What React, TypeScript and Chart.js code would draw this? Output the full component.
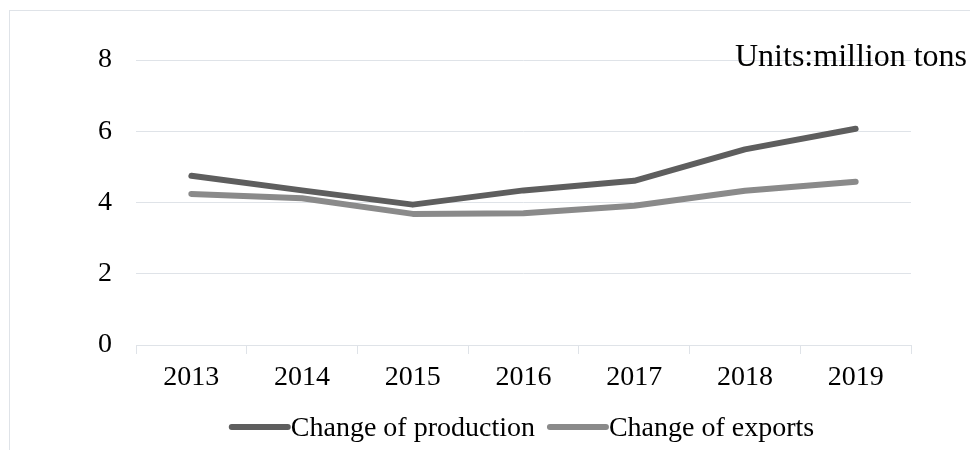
import React, { useEffect, useRef } from "react";
import { Chart, registerables } from "chart.js";

Chart.register(...registerables);

const categories = ["2013", "2014", "2015", "2016", "2017", "2018", "2019"];
const production = [4.75, 4.34, 3.94, 4.34, 4.61, 5.49, 6.07];
const exportsData = [4.24, 4.12, 3.68, 3.7, 3.91, 4.33, 4.58];
const seriesNames = ["Change of production", "Change of exports"];
const seriesColors = ["#5e5e5e", "#8a8a8a"];
const unitsText = "Units:million tons";

const FONT = "'Liberation Serif', 'Times New Roman', serif";
const GRID = "#dfe3e8";

const framePlugin = {
  id: "frame",
  beforeDraw(chart: any) {
    const ctx = chart.ctx;
    ctx.save();
    ctx.fillStyle = "#ffffff";
    ctx.fillRect(0, 0, chart.width, chart.height);
    ctx.strokeStyle = GRID;
    ctx.lineWidth = 1;
    ctx.strokeRect(9.5, 10.5, 3000, 3000);
    ctx.restore();
  },
  afterDraw(chart: any) {
    const ctx = chart.ctx;
    ctx.save();
    // units text
    ctx.font = `32px ${FONT}`;
    ctx.fillStyle = "#000";
    ctx.textAlign = "left";
    ctx.textBaseline = "alphabetic";
    ctx.fillText(unitsText, 735, 66);

    // legend
    ctx.font = `28px ${FONT}`;
    const lineW = 62;
    const gap = 12;
    const ds = chart.data.datasets;
    let total = 0;
    const widths = ds.map((d: any) => ctx.measureText(d.label).width);
    widths.forEach((w: number, i: number) => {
      total += lineW + w + (i < ds.length - 1 ? gap : 0);
    });
    const center = (chart.chartArea.left + chart.chartArea.right) / 2 - 2;
    let x = center - total / 2;
    const baseY = 436;
    const lineY = 427;
    ds.forEach((d: any, i: number) => {
      ctx.strokeStyle = d.borderColor;
      ctx.lineWidth = 6;
      ctx.lineCap = "round";
      ctx.beginPath();
      ctx.moveTo(x + 3, lineY);
      ctx.lineTo(x + lineW - 3, lineY);
      ctx.stroke();
      ctx.fillStyle = "#000";
      ctx.fillText(d.label, x + lineW, baseY);
      x += lineW + widths[i] + gap;
    });
    ctx.restore();
  },
};

export default function App() {
  const ref = useRef<HTMLCanvasElement | null>(null);

  useEffect(() => {
    if (!ref.current) return;
    const chart = new Chart(ref.current, {
      type: "line",
      data: {
        labels: categories,
        datasets: [
          {
            label: seriesNames[0],
            data: production,
            borderColor: seriesColors[0],
            backgroundColor: seriesColors[0],
            borderWidth: 6,
            borderCapStyle: "round",
            borderJoinStyle: "round",
            pointRadius: 0,
            tension: 0,
          },
          {
            label: seriesNames[1],
            data: exportsData,
            borderColor: seriesColors[1],
            backgroundColor: seriesColors[1],
            borderWidth: 6,
            borderCapStyle: "round",
            borderJoinStyle: "round",
            pointRadius: 0,
            tension: 0,
          },
        ],
      },
      options: {
        responsive: false,
        animation: false,
        layout: { padding: { top: 60, right: 59, left: 0, bottom: 0 } },
        plugins: {
          legend: { display: false },
          tooltip: { enabled: false },
        },
        scales: {
          x: {
            offset: true,
            grid: {
              offset: true,
              drawOnChartArea: false,
              drawTicks: true,
              tickLength: 9,
              color: GRID,
            },
            border: { display: true, color: GRID },
            ticks: {
              font: { family: FONT, size: 28 },
              color: "#000",
              padding: 7,
              maxRotation: 0,
            },
            afterFit: (s: any) => {
              s.height = 105;
            },
          },
          y: {
            min: 0,
            max: 8,
            ticks: {
              stepSize: 2,
              font: { family: FONT, size: 28 },
              color: "#000",
              padding: 24,
            },
            grid: { color: GRID, drawTicks: false },
            border: { display: false },
            afterFit: (s: any) => {
              s.width = 136;
            },
          },
        },
      } as any,
      plugins: [framePlugin],
    });
    return () => chart.destroy();
  }, []);

  return (
    <div style={{ position: "fixed", left: 0, top: 0, width: 970, height: 450 }}>
      <canvas ref={ref} width={970} height={450} style={{ display: "block" }} />
    </div>
  );
}
